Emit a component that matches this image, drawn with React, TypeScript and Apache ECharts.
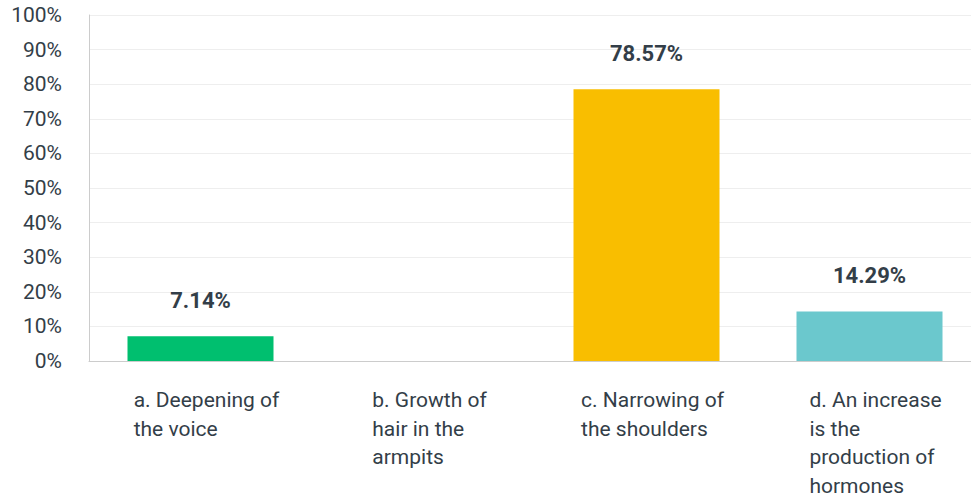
import React, { useEffect, useRef } from "react";
import * as echarts from "echarts";

const categories = [
  "a. Deepening of\nthe voice",
  "b. Growth of\nhair in the\narmpits",
  "c. Narrowing of\nthe shoulders",
  "d. An increase\nis the\nproduction of\nhormones",
];
const values = [7.14, 0, 78.57, 14.29];
const colors = ["#00bf6f", "#f9be00", "#f9be00", "#6bc8cd"];
const yTicks = [0, 10, 20, 30, 40, 50, 60, 70, 80, 90, 100];

export default function App() {
  const ref = useRef<HTMLDivElement>(null);
  useEffect(() => {
    document.body.style.margin = "0";
    if (!ref.current) return;
    const chart = echarts.init(ref.current, undefined, { renderer: "svg" });
    const font = "Roboto, sans-serif";
    chart.setOption({
      animation: false,
      grid: { left: 89, top: 15, right: 9, bottom: 138, containLabel: false },
      xAxis: {
        type: "category",
        data: categories,
        axisLine: { lineStyle: { color: "#cccccc", width: 1 } },
        axisTick: { show: false },
        axisLabel: {
          interval: 0,
          margin: 25,
          formatter: (v: string) =>
            v
              .split("\n")
              .map((l) => "{t|" + l + "}")
              .join("\n"),
          rich: {
            t: {
              align: "left",
              fontFamily: font,
              fontSize: 21,
              lineHeight: 28.5,
              color: "#333e48",
            },
          },
          color: "#333e48",
          fontFamily: font,
          fontSize: 21,
          lineHeight: 28.5,
          padding: [0, 0, 0, 12],
        },
      },
      yAxis: {
        type: "value",
        min: yTicks[0],
        max: yTicks[yTicks.length - 1],
        interval: 10,
        axisLine: { show: true, lineStyle: { color: "#cccccc" } },
        axisTick: { show: false },
        splitLine: { lineStyle: { color: "#eeeeee", width: 1 } },
        axisLabel: {
          formatter: (v: number) => v + "%",
          margin: 27,
          color: "#333e48",
          fontFamily: font,
          fontSize: 21,
          padding: [4, 0, 0, 0],
        },
      },
      series: [
        {
          type: "bar",
          barWidth: 146,
          data: values.map((v, i) => ({ value: v, itemStyle: { color: colors[i] } })),
          label: {
            show: true,
            position: "top",
            distance: 25,
            formatter: (p: any) => (p.value > 0 ? p.value.toFixed(2) + "%" : ""),
            color: "#333e48",
            fontFamily: font,
            fontSize: 22,
            fontWeight: "bold",
          },
        },
      ],
    });
    return () => chart.dispose();
  }, []);
  return (
    <div style={{ width: 971, height: 500, overflow: "hidden" }}>
      <div ref={ref} style={{ width: 990, height: 500 }} />
    </div>
  );
}
